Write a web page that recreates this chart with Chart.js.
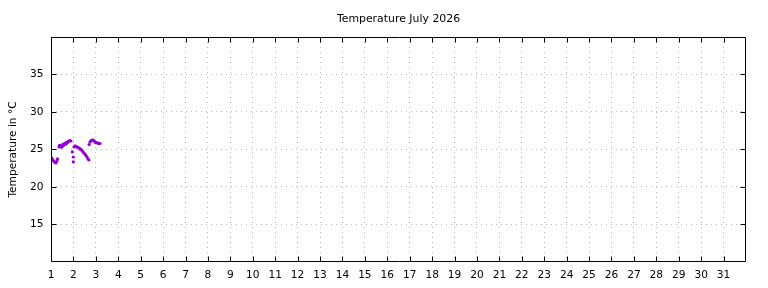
<!DOCTYPE html>
<html>
<head>
<meta charset="utf-8">
<script src="https://cdn.jsdelivr.net/npm/chart.js@4/dist/chart.umd.min.js"></script>
<style>
html,body{margin:0;padding:0;background:#fff;}
#wrap{width:768px;height:288px;position:relative;}
</style>
</head>
<body>
<div id="wrap"><canvas id="c" width="768" height="288"></canvas></div>
<script>
// Day of month (fractional) for each reading
const days = [1.000,1.045,1.089,1.134,1.178,1.223,1.267,1.290,
  1.357,1.401,1.446,1.490,1.535,1.579,1.624,1.668,1.713,1.758,1.802,1.847,1.891,
  1.380,1.470,1.560,1.650,1.740,
  1.950,1.994,1.996,
  2.025,2.070,2.114,2.159,2.203,2.248,2.292,2.337,2.381,2.426,2.470,2.515,2.559,2.604,2.649,2.693,
  2.700,2.738,2.782,2.827,2.872,2.916,2.961,3.005,3.050,3.094,3.139,3.184];
// Temperature readings in °C
const temps = [23.94,23.80,23.60,23.40,23.27,23.20,23.47,23.74,
  25.33,25.47,25.53,25.40,25.73,25.66,25.80,25.93,25.86,26.06,26.13,26.20,26.13,
  25.55,25.30,25.55,25.70,25.95,
  24.67,24.00,23.34,
  25.33,25.47,25.40,25.33,25.27,25.20,25.07,25.00,24.87,24.67,24.53,24.40,24.20,24.00,23.74,23.60,
  25.65,26.00,26.15,26.25,26.25,26.20,26.00,25.90,25.90,25.85,25.80,25.80];
const xTicks = [1,2,3,4,5,6,7,8,9,10,11,12,13,14,15,16,17,18,19,20,21,22,23,24,25,26,27,28,29,30,31];
const yTicks = [15,20,25,30,35];
const xRange = [1,32];
const yRange = [10,40];

const FONT = 'DejaVu Sans';

const framePlugin = {
  id: 'frame',
  afterLayout(chart) {
    const tb = chart.titleBlock, a = chart.chartArea;
    if (tb && a) { tb.left = a.left; tb.right = a.right; tb.width = a.right - a.left; }
  },
  afterDraw(chart) {
    const {ctx, chartArea: a, scales} = chart;
    ctx.save();
    ctx.strokeStyle = '#000';
    ctx.lineWidth = 1;
    const L = Math.round(a.left) + 0.5, R = Math.round(a.right) - 0.5;
    const T = Math.round(a.top) + 0.5, B = Math.round(a.bottom) - 0.5;
    ctx.beginPath();
    ctx.rect(L, T, R - L, B - T);
    const tl = 5;
    xTicks.forEach(v => {
      const x = Math.round(scales.x.getPixelForValue(v)) + 0.5;
      ctx.moveTo(x, B); ctx.lineTo(x, B - tl);
      ctx.moveTo(x, T); ctx.lineTo(x, T + tl);
    });
    yTicks.forEach(v => {
      const y = Math.round(scales.y.getPixelForValue(v)) + 0.5;
      ctx.moveTo(L, y); ctx.lineTo(L + tl, y);
      ctx.moveTo(R, y); ctx.lineTo(R - tl, y);
    });
    ctx.stroke();
    ctx.restore();
  }
};

new Chart(document.getElementById('c'), {
  type: 'scatter',
  data: {
    datasets: [{
      data: days.map((d, i) => ({x: d, y: temps[i]})),
      backgroundColor: '#9400d3',
      borderColor: '#9400d3',
      pointRadius: 1.6,
      pointBorderWidth: 0,
      showLine: false
    }]
  },
  options: {
    responsive: false,
    animation: false,
    events: [],
    layout: {padding: {left: 0, right: 22, top: 0, bottom: 0}},
    plugins: {
      legend: {display: false},
      tooltip: {enabled: false},
      title: {
        display: true,
        text: 'Temperature July 2026',
        color: '#000',
        font: {family: FONT, size: 10.9, weight: 'normal'},
        padding: {top: 12.3, bottom: 11.6}
      }
    },
    scales: {
      x: {
        type: 'linear',
        min: xRange[0], max: xRange[1],
        afterBuildTicks: s => { s.ticks = xTicks.map(v => ({value: v})); },
        afterFit: s => { s.height = 26; },
        ticks: {
          color: '#000',
          font: {family: FONT, size: 10.6},
          padding: 7,
          maxRotation: 0,
          autoSkip: false,
          callback: v => String(v)
        },
        grid: {color: '#b8b8b8', lineWidth: 1, drawTicks: false},
        border: {display: false, dash: [1, 4]}
      },
      y: {
        type: 'linear',
        min: yRange[0], max: yRange[1],
        afterBuildTicks: s => { s.ticks = yTicks.map(v => ({value: v})); },
        afterFit: s => { s.width = 51; },
        ticks: {
          color: '#000',
          font: {family: FONT, size: 10.6},
          padding: 7.5,
          callback: v => String(v)
        },
        title: {
          display: true,
          text: 'Temperature in °C',
          color: '#000',
          font: {family: FONT, size: 10.6},
          padding: {top: 6.5, bottom: 0}
        },
        grid: {color: '#b8b8b8', lineWidth: 1, drawTicks: false},
        border: {display: false, dash: [1, 4]}
      }
    }
  },
  plugins: [framePlugin]
});
</script>
</body>
</html>
